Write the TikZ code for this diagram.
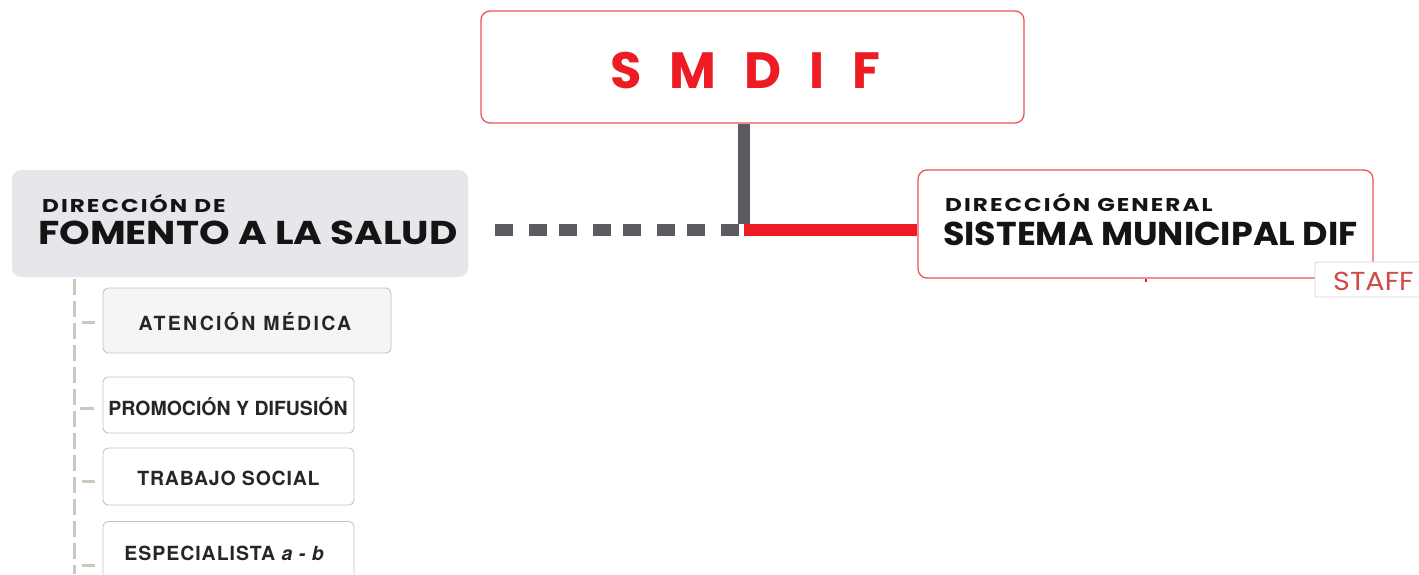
\documentclass[tikz,border=0pt]{standalone}
\usepackage{fontspec}
\setmainfont{Poppins}
\newfontfamily\subfonta[LetterSpace=12]{TeX Gyre Heros}
\newfontfamily\subfontb[LetterSpace=0]{TeX Gyre Heros}
\newfontfamily\subfontc[LetterSpace=4]{TeX Gyre Heros}
\newfontfamily\subfontd[LetterSpace=5]{TeX Gyre Heros}
\newfontfamily\smdiffont[LetterSpace=55]{Poppins}
\newfontfamily\dirfont[LetterSpace=11,FakeStretch=1.25]{Poppins}
\newfontfamily\fomfont[FakeStretch=1.18]{Poppins}
\newfontfamily\sisfont[FakeStretch=1.058]{Poppins}
\newfontfamily\stafffont[FakeStretch=1.1]{Poppins}
\definecolor{difred}{HTML}{ED1C24}
\definecolor{boxred}{HTML}{EF5357}
\definecolor{linegray}{HTML}{5E5A61}
\definecolor{panelgray}{HTML}{E6E7EB}
\definecolor{subborder}{HTML}{C4C4C4}
\definecolor{subfill}{HTML}{F4F5F7}
\definecolor{beige}{HTML}{CFC8BF}
\definecolor{staffred}{HTML}{CF4B47}
\definecolor{ink}{HTML}{141414}
\begin{document}
\begin{tikzpicture}[x=1pt,y=-1pt,
  box/.style={rectangle, rounded corners=9pt, draw=boxred, line width=1.3pt, fill=white, inner sep=0pt},
  panel/.style={rectangle, rounded corners=9pt, fill=panelgray, inner sep=0pt},
  subbox/.style={rectangle, rounded corners=5pt, draw=subborder, line width=0.9pt, fill=white, inner sep=0pt},
  staffbox/.style={rectangle, rounded corners=2pt, draw=subborder!70, line width=0.8pt, fill=white, inner sep=0pt},
  txt/.style={inner sep=0pt, text=ink},
  subtxt/.style={inner sep=0pt, text=black!85, anchor=base},
  grayline/.style={draw=linegray, line width=12pt},
  grayseg/.style={draw=linegray, line width=12pt, dash pattern=on 18pt off 16pt on 18pt off 12pt},
  redline/.style={draw=difred, line width=12pt},
  treeline/.style={draw=beige, line width=3pt, dash pattern=on 16pt off 6pt},
  tick/.style={draw=beige, line width=3pt}
]
\useasboundingbox (0,0) rectangle (1419,574);
\fill[white] (0,0) rectangle (1419,574);

% boxes
\node[box, minimum width=543pt, minimum height=112pt] (smdif) at (752.5,67) {};
\node[box, minimum width=455pt, minimum height=108pt] (dg) at (1145.5,224) {};
\node[panel, minimum width=456pt, minimum height=107pt] (dfs) at (240,223.5) {};
\node[subbox, fill=subfill, minimum width=288pt, minimum height=65pt] (am) at (247,320.5) {};
\node[subbox, minimum width=251pt, minimum height=56pt] (pd) at (228.5,405) {};
\node[subbox, minimum width=251pt, minimum height=57pt] (ts) at (228.5,476.5) {};
\node[subbox, minimum width=251pt, minimum height=59pt] (es) at (228.5,551) {};

% connectors
\coordinate (junc) at (744,230);
\coordinate (dstart) at (495,230);
\draw[grayline] (smdif.south -| junc) -- ([yshift=6pt]junc);
\draw[grayseg] (dstart) -- (junc);
\draw[redline] (junc) -- (dg.west |- junc);
\draw[difred, line width=2pt] (dg.south) -- ++(0,3);

\node[staffbox, minimum width=108pt, minimum height=35pt] (staff) at (1369,279.5) {};

\coordinate (ttop) at (74,279);
\coordinate (tbot) at (74,574);
\draw[treeline] (ttop) -- (tbot);
\draw[tick] ([xshift=-21pt]am.west |- 0,322) -- ([xshift=-8pt]am.west |- 0,322);
\draw[tick] ([xshift=-23pt]pd.west |- 0,408) -- ([xshift=-9pt]pd.west |- 0,408);
\draw[tick] ([xshift=-21pt]ts.west |- 0,481) -- ([xshift=-8pt]ts.west |- 0,481);
\draw[tick] ([xshift=-21pt]es.west |- 0,565) -- ([xshift=-8pt]es.west |- 0,565);

% texts
\node[txt, text=difred, anchor=base] (tsmdif) at (745.5,88) {\smdiffont\fontsize{51}{51}\selectfont\bfseries SMDIF};
\node[txt, anchor=base west] (tdg1) at (945,211) {\dirfont\fontsize{18.5}{18.5}\selectfont\bfseries DIRECCIÓN GENERAL};
\node[txt, anchor=base west] (tdg2) at (943,245) {\sisfont\fontsize{33}{33}\selectfont\bfseries SISTEMA MUNICIPAL DIF};
\node[txt, anchor=base west] (tdf1) at (42,212) {\dirfont\fontsize{18.5}{18.5}\selectfont\bfseries DIRECCIÓN DE};
\node[txt, anchor=base west] (tdf2) at (38,244) {\fomfont\fontsize{33}{33}\selectfont\bfseries FOMENTO A LA SALUD};
\node[txt, text=staffred, anchor=base west] (tstaff) at (1333,290) {\stafffont\fontsize{26}{26}\selectfont STAFF};

\node[subtxt] (tam) at (245,330) {\subfonta\fontsize{19.5}{19.5}\selectfont\bfseries ATENCIÓN MÉDICA};
\node[subtxt] (tpd) at (228,415) {\subfontb\fontsize{19.5}{19.5}\selectfont\bfseries PROMOCIÓN Y DIFUSIÓN};
\node[subtxt] (tts) at (228.5,485) {\subfontc\fontsize{19.5}{19.5}\selectfont\bfseries TRABAJO SOCIAL};
\node[subtxt] (tes) at (224.5,560) {\subfontd\fontsize{19.5}{19.5}\selectfont\bfseries ESPECIALISTA \textit{a - b}};
\end{tikzpicture}
\end{document}
